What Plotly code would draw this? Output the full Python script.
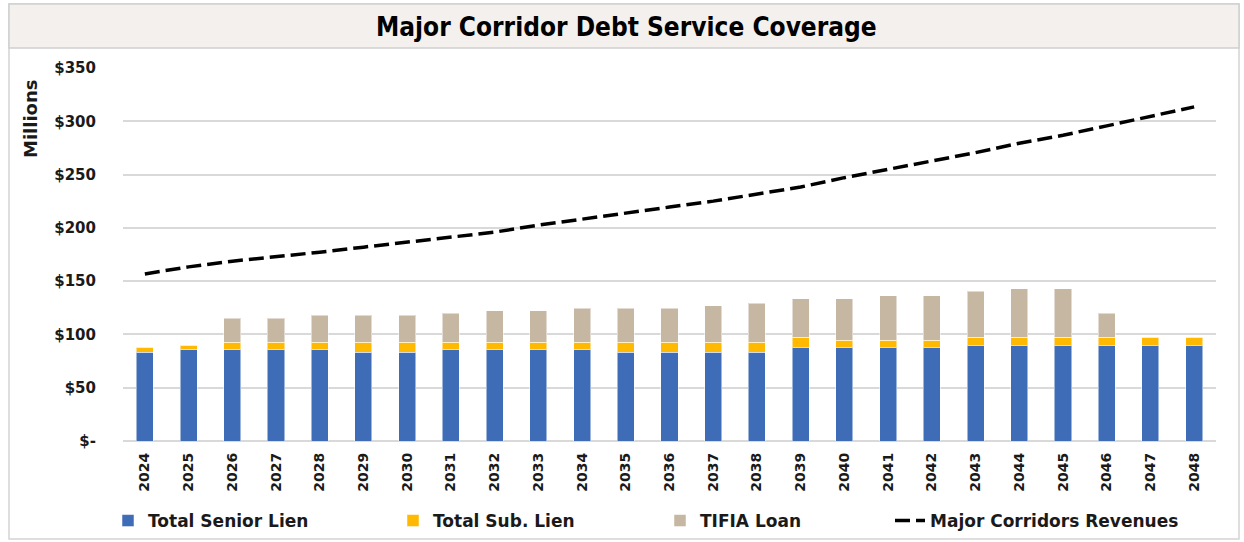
import plotly.graph_objects as go

years = [str(y) for y in range(2024, 2049)]
senior_lien = [83.4, 85.6, 85.6, 85.6, 85.6, 83.4, 83.4, 85.6, 85.6, 85.6, 85.6, 83.4, 83.4,
               83.4, 83.4, 88.1, 88.1, 88.1, 88.1, 90.0, 90.0, 90.0, 90.0, 90.0, 90.0]
sub_lien = [4.4, 4.4, 6.9, 6.9, 6.9, 9.1, 9.1, 6.9, 6.9, 6.9, 6.9, 9.1, 9.1,
            9.1, 9.1, 9.1, 6.6, 6.6, 6.6, 7.2, 7.2, 7.2, 7.2, 7.2, 7.2]
tifia_loan = [0, 0, 22.9, 22.9, 25.4, 25.4, 25.4, 27.6, 29.8, 29.5, 32.0, 32.0, 32.0,
              34.5, 36.7, 36.4, 38.9, 41.4, 41.4, 43.3, 45.5, 45.5, 22.9, 0, 0]
revenues = [156.8, 163.4, 168.7, 172.8, 177.2, 181.9, 186.6, 191.0, 196.0, 202.5, 207.9, 214.0,
            219.5, 225.1, 231.7, 238.3, 247.1, 254.9, 263.4, 270.6, 279.4, 286.9, 295.7, 304.5, 313.5]
y_tick_vals = [0, 50, 100, 150, 200, 250, 300, 350]
y_tick_text = ["$-", "$50", "$100", "$150", "$200", "$250", "$300", "$350"]

W, H = 1244, 542
L, R, T, B = 123, 28, 68, 101
pw, ph = W - L - R, H - T - B

def px(x):
    return (x - L) / pw

def py(y):
    return (H - B - y) / ph

FONT = "DejaVu Sans, Liberation Sans, sans-serif"
BLUE = "#3f6cb6"
GOLD = "#ffb900"
TAN = "#c6b7a2"
EDGE = dict(color="rgba(255,255,255,0.5)", width=1)

fig = go.Figure()
fig.add_trace(go.Bar(x=years, y=senior_lien, name="Total Senior Lien", marker_color=BLUE,
                     marker_line=EDGE, legend="legend"))
fig.add_trace(go.Bar(x=years, y=sub_lien, name="Total Sub. Lien", marker_color=GOLD,
                     marker_line=EDGE, legend="legend2"))
fig.add_trace(go.Bar(x=years, y=tifia_loan, name="TIFIA Loan", marker_color=TAN,
                     marker_line=EDGE, legend="legend3"))
fig.add_trace(go.Scatter(x=years, y=revenues, name="Major Corridors Revenues", mode="lines",
                         line=dict(color="black", width=3.5, dash="15px,6px"), legend="legend4"))

def leg(text_x):
    return dict(xref="container", yref="container", x=(text_x - 40) / W, y=(H - 521) / H,
                xanchor="left", yanchor="middle", orientation="h", bgcolor="rgba(0,0,0,0)",
                font=dict(family=FONT, size=17, color="#1a1a1a", weight="bold"),
                itemwidth=30, tracegroupgap=0)

shapes = [
    dict(type="rect", xref="paper", yref="paper", x0=px(9), x1=px(1239), y0=py(539), y1=py(4),
         line=dict(color="#d4d4d4", width=1.5), fillcolor="rgba(0,0,0,0)", layer="below"),
    dict(type="rect", xref="paper", yref="paper", x0=px(9), x1=px(1239), y0=py(48), y1=py(4),
         line=dict(color="#cfcfcf", width=1.5), fillcolor="#f3f0ed", layer="below"),
]

annotations = [
    dict(text="Major Corridor Debt Service Coverage", xref="paper", yref="paper",
         x=px(626), y=py(27), showarrow=False, xanchor="center", yanchor="middle",
         font=dict(family="DejaVu Sans Condensed, DejaVu Sans, sans-serif",
                   size=26, color="black", weight="bold")),
    dict(text="Millions", xref="paper", yref="paper", x=px(30), y=py(119), textangle=-90,
         showarrow=False, xanchor="center", yanchor="middle",
         font=dict(family=FONT, size=18, color="#1a1a1a", weight="bold")),
]

fig.update_layout(
    width=W, height=H, barmode="stack", bargap=0.61,
    margin=dict(l=L, r=R, t=T, b=B, autoexpand=False),
    paper_bgcolor="white", plot_bgcolor="white",
    showlegend=True,
    legend=leg(148), legend2=leg(433), legend3=leg(700), legend4=leg(930),
    shapes=shapes, annotations=annotations,
    xaxis=dict(type="category", tickangle=-90, showgrid=False, showline=False, ticks="",
               tickfont=dict(family=FONT, size=14, color="#1a1a1a", weight="bold"),
               ticklabelstandoff=8),
    yaxis=dict(range=[0, 350], tickvals=y_tick_vals, ticktext=y_tick_text,
               showgrid=True, gridcolor="#d9d9d9", gridwidth=1.5, zeroline=True,
               zerolinecolor="#d9d9d9", zerolinewidth=1.5, showline=False, ticks="",
               tickfont=dict(family=FONT, size=15, color="#1a1a1a", weight="bold"),
               ticklabelstandoff=26),
)

fig.write_html("out.html")
